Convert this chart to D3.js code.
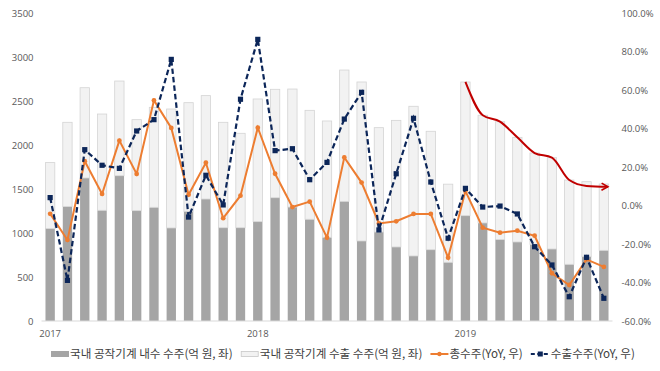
<!DOCTYPE html>
<html>
<head>
<meta charset="utf-8">
<script src="https://cdn.jsdelivr.net/npm/d3@7"></script>
<style>
    body { margin: 0; background: #fff; }
    svg { display: block; font-family: "Noto Sans CJK KR", "Noto Sans", sans-serif; }
</style>
</head>
<body>
<script>
const months = [
    "2017.01", "2017.02", "2017.03", "2017.04", "2017.05", "2017.06", "2017.07", "2017.08", "2017.09", "2017.10", "2017.11", "2017.12",
    "2018.01", "2018.02", "2018.03", "2018.04", "2018.05", "2018.06", "2018.07", "2018.08", "2018.09", "2018.10", "2018.11", "2018.12",
    "2019.01", "2019.02", "2019.03", "2019.04", "2019.05", "2019.06", "2019.07", "2019.08", "2019.09"
];

// 억 원
const domesticOrders = [1050, 1300, 1625, 1258, 1651, 1254, 1292, 1057, 1246, 1386, 1060, 1060,
    1129, 1401, 1295, 1156, 951, 1360, 909, 1011, 841, 739, 810, 667,
    1197, 1114, 925, 898, 872, 818, 644, 731, 803];
const exportOrders = [750, 958, 1026, 1094, 1076, 1034, 1136, 1352, 1235, 1175, 1198, 1073,
    1394, 1232, 1341, 1238, 1322, 1492, 1807, 1186, 1439, 1701, 1346, 888,
    1519, 1224, 1340, 1189, 1037, 1038, 958, 852, 754];

// YoY %
const totalYoY = [-4.3, -17.9, 23.0, 6.0, 33.7, 16.4, 54.6, 40.3, 5.6, 22.2, -6.6, 5.1,
    40.4, 16.5, -0.8, 2.0, -16.7, 25.0, 11.9, -9.3, -8.2, -4.4, -4.4, -27.1,
    7.5, -11.5, -14.1, -13.1, -15.7, -35.2, -41.3, -28.0, -31.9];
const exportYoY = [4.1, -38.9, 29.0, 20.9, 19.3, 38.7, 44.6, 75.9, -6.0, 15.7, 0.3, 55.2,
    86.3, 28.5, 29.5, 13.4, 22.4, 44.9, 58.8, -12.7, 16.5, 45.3, 12.2, -17.0,
    8.9, -0.8, -0.3, -4.4, -21.4, -30.9, -47.4, -26.9, -48.2];

// red trend annotation (2019.01 ~ 2019.09), on left axis
const trendMonths = months.slice(24);
const trendValues = [2716, 2338, 2265, 2087, 1909, 1856, 1602, 1535, 1525];

const leftTicks = [0, 500, 1000, 1500, 2000, 2500, 3000, 3500];
const rightTicks = [-60, -40, -20, 0, 20, 40, 60, 80, 100];

const legendLabels = [
    "국내 공작기계 내수 수주(억 원, 좌)",
    "국내 공작기계 수출 수주(억 원, 좌)",
    "총수주(YoY, 우)",
    "수출수주(YoY, 우)"
];

const width = 660;
const height = 371;
const plotLeft = 41.5, plotRight = 612.5, plotTop = 13, plotBottom = 321;

const x = d3.scaleBand().domain(months).range([plotLeft, plotRight]).paddingInner(0.46).paddingOuter(0.23);
const yL = d3.scaleLinear().domain([0, 3500]).range([plotBottom, plotTop]);
const yR = d3.scaleLinear().domain([-60, 100]).range([plotBottom, plotTop]);
const cx = (m) => x(m) + x.bandwidth() / 2;

const svg = d3.select("body").append("svg")
    .attr("width", width)
    .attr("height", height);

const defs = svg.append("defs");
defs.append("marker")
    .attr("id", "arrow")
    .attr("viewBox", "0 0 10 10")
    .attr("refX", 8).attr("refY", 5)
    .attr("markerWidth", 4.5).attr("markerHeight", 4.5)
    .attr("markerUnits", "strokeWidth")
    .attr("orient", "auto")
    .append("path")
    .attr("d", "M1,1 L8,5 L1,9")
    .attr("fill", "none")
    .attr("stroke", "#c00000")
    .attr("stroke-width", 1.8);

// bars
const bars = svg.append("g");
bars.selectAll(".dom").data(months).join("rect")
    .attr("class", "dom")
    .attr("x", (d) => x(d))
    .attr("width", x.bandwidth())
    .attr("y", (d, i) => yL(domesticOrders[i]))
    .attr("height", (d, i) => yL(0) - yL(domesticOrders[i]))
    .attr("fill", "#a5a5a5");
bars.selectAll(".exp").data(months).join("rect")
    .attr("class", "exp")
    .attr("x", (d) => x(d))
    .attr("width", x.bandwidth())
    .attr("y", (d, i) => yL(domesticOrders[i] + exportOrders[i]))
    .attr("height", (d, i) => yL(domesticOrders[i]) - yL(domesticOrders[i] + exportOrders[i]))
    .attr("fill", "#f2f2f2")
    .attr("stroke", "#d4d4d4")
    .attr("stroke-width", 0.8);

// baseline
svg.append("line")
    .attr("x1", plotLeft).attr("x2", plotRight)
    .attr("y1", plotBottom).attr("y2", plotBottom)
    .attr("stroke", "#d9d9d9");

// axes
const axisL = svg.append("g")
    .attr("transform", `translate(${plotLeft - 8},0)`)
    .call(d3.axisLeft(yL).tickValues(leftTicks).tickSize(0).tickPadding(0).tickFormat(d3.format("d")));
const axisR = svg.append("g")
    .attr("transform", `translate(${plotRight + 9},0)`)
    .call(d3.axisRight(yR).tickValues(rightTicks).tickSize(0).tickPadding(0).tickFormat((d) => d.toFixed(1) + "%"));
const axisX = svg.append("g")
    .attr("transform", `translate(0,${plotBottom + 9})`)
    .call(d3.axisBottom(x).tickSize(0).tickPadding(0)
        .tickFormat((d) => d.endsWith(".01") ? d.slice(0, 4) : ""));
[axisL, axisR, axisX].forEach((g) => {
    g.select(".domain").remove();
    g.selectAll("text").attr("fill", "#595959").style("font-size", "9.5px").style("font-family", "'Open Sans', sans-serif");
});
axisX.selectAll("text").attr("dy", "0.71em");

// lines
const lineYoY = d3.line().x((d, i) => cx(months[i])).y((d) => yR(d));
svg.append("path")
    .datum(totalYoY)
    .attr("d", lineYoY)
    .attr("fill", "none")
    .attr("stroke", "#ed7d31")
    .attr("stroke-width", 2);
svg.selectAll(".dotT").data(totalYoY).join("circle")
    .attr("class", "dotT")
    .attr("cx", (d, i) => cx(months[i]))
    .attr("cy", (d) => yR(d))
    .attr("r", 2.4)
    .attr("fill", "#ed7d31");

svg.append("path")
    .datum(exportYoY)
    .attr("d", lineYoY)
    .attr("fill", "none")
    .attr("stroke", "#0c2659")
    .attr("stroke-width", 2.2)
    .attr("stroke-dasharray", "5.5,3");
svg.selectAll(".dotE").data(exportYoY).join("rect")
    .attr("class", "dotE")
    .attr("x", (d, i) => cx(months[i]) - 2.6)
    .attr("y", (d) => yR(d) - 2.6)
    .attr("width", 5.2)
    .attr("height", 5.2)
    .attr("fill", "#0c2659");

// trend arrow
svg.append("path")
    .datum(trendValues)
    .attr("d", d3.line().curve(d3.curveMonotoneX)
        .x((d, i) => cx(trendMonths[i]) + (i === trendValues.length - 1 ? 4 : 0))
        .y((d) => yL(d)))
    .attr("fill", "none")
    .attr("stroke", "#c00000")
    .attr("stroke-width", 2)
    .attr("marker-end", "url(#arrow)");

// legend
const legend = svg.append("g").attr("transform", "translate(0,354)");
let lx = 51;
legendLabels.forEach((label, i) => {
    const item = legend.append("g").attr("transform", `translate(${lx},0)`);
    let sw = 18;
    if (i === 0) {
        item.append("rect").attr("x", 0).attr("y", -3).attr("width", 18).attr("height", 6).attr("fill", "#a5a5a5");
    } else if (i === 1) {
        item.append("rect").attr("x", 0.5).attr("y", -2.5).attr("width", 17).attr("height", 5).attr("fill", "#f2f2f2").attr("stroke", "#c8c8c8").attr("stroke-width", 0.8);
    } else if (i === 2) {
        item.append("line").attr("x1", 0).attr("x2", 18).attr("y1", 0).attr("y2", 0).attr("stroke", "#ed7d31").attr("stroke-width", 2);
        item.append("circle").attr("cx", 9).attr("cy", 0).attr("r", 2.2).attr("fill", "#ed7d31");
    } else {
        item.append("line").attr("x1", 0).attr("x2", 19).attr("y1", 0).attr("y2", 0).attr("stroke", "#0c2659").attr("stroke-width", 2).attr("stroke-dasharray", "4,2.5");
        item.append("rect").attr("x", 7).attr("y", -2.5).attr("width", 5).attr("height", 5).attr("fill", "#0c2659");
        sw = 19;
    }
    const t = item.append("text")
        .attr("x", sw + 1)
        .attr("dy", "0.35em")
        .attr("fill", "#404040")
        .style("font-size", "11.6px")
        .text(label);
    lx += sw + 1 + t.node().getComputedTextLength() + 8;
});
</script>
</body>
</html>
